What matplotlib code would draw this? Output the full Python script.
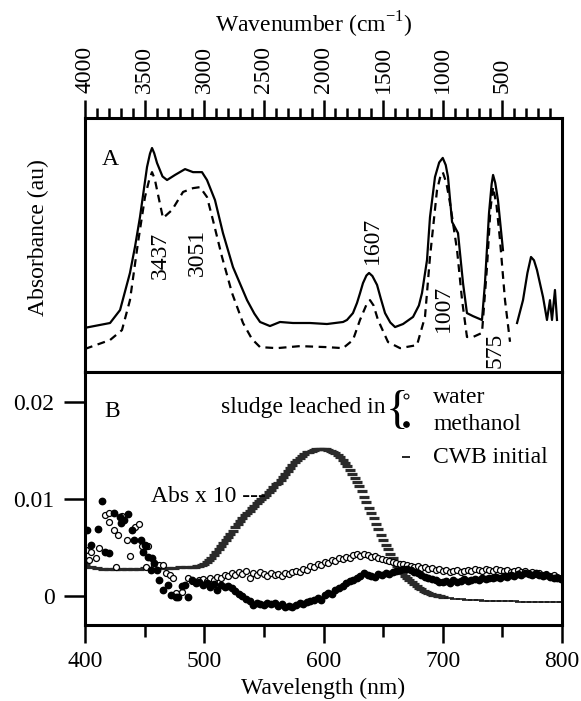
import numpy as np
import matplotlib.pyplot as plt

plt.rcParams['font.family'] = ['Liberation Serif', 'DejaVu Serif']
plt.rcParams['mathtext.fontset'] = 'custom'
plt.rcParams['mathtext.rm'] = 'Liberation Serif'

# ---- panel A: IR spectra (wavenumber, arbitrary absorbance) ----
ir_wn_solid = [4000, 3790, 3706, 3623, 3580, 3539, 3480, 3455, 3438, 3420, 3396, 3350, 3312,
               3245, 3161, 3094, 3019, 2977, 2910, 2843, 2759, 2641, 2580, 2532, 2449, 2365,
               2256, 2113, 1971, 1836, 1803, 1753, 1719, 1694, 1669, 1640, 1618, 1590, 1551,
               1520, 1484, 1440, 1400, 1333, 1249, 1200, 1174, 1132, 1107, 1065, 1030, 1000,
               975, 956, 922, 872, 830, 797, 746, 671, 646, 612, 590, 578, 560, 537, 495]
ir_abs_solid = [0.174, 0.193, 0.244, 0.390, 0.495, 0.610, 0.807, 0.860, 0.882, 0.862, 0.823,
                0.770, 0.756, 0.776, 0.799, 0.787, 0.787, 0.756, 0.677, 0.547, 0.413, 0.283,
                0.230, 0.197, 0.181, 0.197, 0.193, 0.193, 0.189, 0.197, 0.205, 0.232, 0.272,
                0.310, 0.350, 0.380, 0.390, 0.378, 0.343, 0.290, 0.232, 0.195, 0.177, 0.189,
                0.217, 0.262, 0.311, 0.441, 0.610, 0.768, 0.825, 0.843, 0.815, 0.768, 0.591,
                0.547, 0.350, 0.232, 0.220, 0.205, 0.350, 0.626, 0.740, 0.776, 0.745, 0.677,
                0.480]
ir_wn_far = [377, 327, 290, 260, 235, 210, 159, 126, 101, 84, 59, 42]
ir_abs_far = [0.193, 0.283, 0.390, 0.453, 0.440, 0.402, 0.295, 0.205, 0.283, 0.205, 0.323,
              0.205]

ir_wn_dash = [4000, 3790, 3690, 3623, 3556, 3497, 3460, 3438, 3415, 3396, 3346, 3270, 3178,
              3094, 3036, 2977, 2927, 2851, 2767, 2675, 2600, 2532, 2390, 2197, 1971, 1836,
              1753, 1694, 1640, 1610, 1580, 1543, 1459, 1358, 1216, 1149, 1107, 1048, 1020,
              1000, 970, 939, 880, 838, 797, 746, 671, 629, 600, 578, 550, 520, 478, 436]
ir_abs_dash = [0.091, 0.126, 0.165, 0.283, 0.508, 0.689, 0.760, 0.787, 0.760, 0.717, 0.606,
               0.638, 0.709, 0.724, 0.728, 0.689, 0.598, 0.453, 0.311, 0.193, 0.130, 0.098,
               0.094, 0.102, 0.098, 0.094, 0.126, 0.205, 0.265, 0.283, 0.262, 0.205, 0.118,
               0.094, 0.106, 0.217, 0.453, 0.717, 0.770, 0.787, 0.745, 0.665, 0.480, 0.283,
               0.138, 0.138, 0.154, 0.413, 0.640, 0.728, 0.660, 0.520, 0.283, 0.119]

peak_labels = ['3437', '3051', '1607', '1007', '575']
peak_x = [3371, 3061, 1593, 998, 562]
peak_y = [0.461, 0.469, 0.52, 0.252, 0.087]

# ---- panel B: UV-vis ----
cwb_nm = [400, 405, 410, 415, 420, 425, 430, 435, 440, 445, 450, 455, 460, 465, 470, 475,
          480, 485,
          490, 492, 494, 496, 498, 500, 502, 504, 506, 508,
          510, 512, 514, 516, 518, 520, 522, 524, 526, 528,
          530, 532, 534, 536, 538, 540, 542, 544, 546, 548,
          550, 552, 554, 556, 558, 560, 562, 564, 566, 568,
          570, 572, 574, 576, 578, 580, 582, 584, 586, 588,
          590, 592, 594, 596, 598, 600, 602, 604, 606, 608,
          610, 612, 614, 616, 618, 620, 622, 624, 626, 628,
          630, 632, 634, 636, 638, 640, 642, 644, 646, 648,
          650, 652, 654, 656, 658, 660, 662, 664, 666, 668,
          670, 672, 674, 676, 678, 680, 682, 684, 686, 688,
          690, 692, 694, 696, 698, 700,
          705, 710, 715, 720, 725, 730, 735, 740, 745, 750, 755, 760, 765, 770, 775, 780,
          785, 790, 795, 800]
cwb_abs = [0.0033, 0.0030, 0.0029, 0.0028, 0.0028, 0.0028, 0.0028, 0.0028, 0.0028, 0.0028,
           0.0029, 0.0029, 0.0029, 0.0029, 0.0029, 0.0029, 0.0030, 0.0030,
           0.0030, 0.0030, 0.0031, 0.0031, 0.0032, 0.0033, 0.0035, 0.0037, 0.0039, 0.0042,
           0.0045, 0.0048, 0.0051, 0.0055, 0.0058, 0.0061, 0.0064, 0.0067, 0.0071, 0.0074,
           0.0077, 0.0080, 0.0083, 0.0086, 0.0088, 0.0091, 0.0093, 0.0096, 0.0098, 0.0100,
           0.0102, 0.0104, 0.0107, 0.0109, 0.0112, 0.0115, 0.0117, 0.0120, 0.0123, 0.0126,
           0.0129, 0.0132, 0.0135, 0.0138, 0.0140, 0.0142, 0.0144, 0.0146, 0.0148, 0.0149,
           0.0150, 0.0151, 0.0152, 0.0152, 0.0152, 0.0152, 0.0152, 0.0151, 0.0150, 0.0149,
           0.0147, 0.0145, 0.0143, 0.0140, 0.0137, 0.0134, 0.0130, 0.0126, 0.0122, 0.0118,
           0.0113, 0.0108, 0.0102, 0.0097, 0.0091, 0.0086, 0.0080, 0.0074, 0.0069, 0.0063,
           0.0058, 0.0053, 0.0048, 0.0043, 0.0039, 0.0035, 0.0031, 0.0027, 0.0024, 0.0021,
           0.0019, 0.0016, 0.0014, 0.0012, 0.0010, 0.0008, 0.0007, 0.0005, 0.0004, 0.0003,
           0.0002, 0.0001, 0.0001, 0.0000, 0.0000, -0.0001,
           -0.0002, -0.0003, -0.0003, -0.0004, -0.0004, -0.0004, -0.0005, -0.0005, -0.0005,
           -0.0005, -0.0005, -0.0005, -0.0006, -0.0006, -0.0006, -0.0006, -0.0006, -0.0006,
           -0.0006, -0.0006]

# scattered readings below 490 nm
water_nm_lo = [401, 403, 405, 409, 412, 417, 420, 420.5, 424, 426, 428, 431, 435, 438, 442,
               445, 448, 451, 453, 458, 462, 465, 468, 471, 474, 476, 481, 486]
water_abs_lo = [0.0047, 0.0037, 0.0045, 0.0039, 0.0049, 0.0083, 0.0086, 0.0076, 0.0068,
                0.0030, 0.0063, 0.0082, 0.0058, 0.0041, 0.0071, 0.0074, 0.0051, 0.0030,
                0.0051, 0.0032, 0.0032, 0.0032, 0.0024, 0.0022, 0.0019, 0.0003, 0.0004,
                0.0018]
meth_nm_lo = [402, 405, 411, 414, 417, 420, 424, 429, 430, 433, 436, 439, 441, 447, 449, 450,
              451, 453, 456, 458, 455, 460, 462, 465, 470, 472, 476, 478, 481, 484, 486]
meth_abs_lo = [0.0068, 0.0053, 0.0069, 0.0098, 0.0045, 0.0044, 0.0086, 0.0081, 0.0075,
               0.0078, 0.0085, 0.0068, 0.0058, 0.0058, 0.0045, 0.0053, 0.0051, 0.0040,
               0.0039, 0.0034, 0.0027, 0.0027, 0.0016, 0.0006, 0.0011, 0.0001, -0.0001,
               -0.0001, 0.0010, 0.0011, -0.0001]

# regular 3 nm readings from 490 nm on
dense_nm = np.arange(490, 800, 3)
water_abs = [0.0015, 0.0014, 0.0016, 0.0017, 0.0015, 0.0019, 0.0016, 0.0020, 0.0019, 0.0022,
             0.0021, 0.0024, 0.0022, 0.0025, 0.0023, 0.0026, 0.0019, 0.0024, 0.0022, 0.0025,
             0.0023, 0.0021, 0.0024, 0.0022, 0.0023, 0.0021, 0.0024, 0.0023, 0.0025, 0.0026,
             0.0025, 0.0028, 0.0027, 0.0031, 0.0030, 0.0033, 0.0032, 0.0035, 0.0034, 0.0037,
             0.0036, 0.0039, 0.0038, 0.0040, 0.0039, 0.0042, 0.0043, 0.0041, 0.0043, 0.0042,
             0.0040, 0.0041, 0.0039, 0.0038, 0.0037, 0.0036, 0.0035, 0.0034, 0.0033, 0.0033,
             0.0032, 0.0031, 0.0030, 0.0031, 0.0029, 0.0030, 0.0028, 0.0029, 0.0027, 0.0028,
             0.0026, 0.0027, 0.0025, 0.0026, 0.0027, 0.0025, 0.0026, 0.0027, 0.0026, 0.0028,
             0.0027, 0.0026, 0.0028, 0.0027, 0.0026, 0.0028, 0.0027, 0.0026, 0.0027, 0.0025,
             0.0026, 0.0027, 0.0025, 0.0026, 0.0024, 0.0025, 0.0023, 0.0024, 0.0022, 0.0023,
             0.0021, 0.0022, 0.0020, 0.0019]
meth_abs = [0.0016, 0.0013, 0.0014, 0.0011, 0.0013, 0.0009, 0.0012, 0.0006, 0.0011, 0.0009,
            0.0010, 0.0008, 0.0005, 0.0002, 0.0000, -0.0003, -0.0005, -0.0009, -0.0007, -0.0008,
            -0.0009, -0.0007, -0.0008, -0.0007, -0.0010, -0.0008, -0.0011, -0.0010, -0.0011, -0.0009,
            -0.0007, -0.0008, -0.0006, -0.0005, -0.0004, -0.0002, -0.0004, 0.0001, 0.0003, 0.0002,
            0.0006, 0.0008, 0.0010, 0.0013, 0.0015, 0.0016, 0.0019, 0.0021, 0.0024, 0.0022,
            0.0021, 0.0020, 0.0023, 0.0022, 0.0024, 0.0023, 0.0025, 0.0026, 0.0027, 0.0028,
            0.0028, 0.0027, 0.0025, 0.0024, 0.0022, 0.0020, 0.0019, 0.0017, 0.0016, 0.0014,
            0.0014, 0.0015, 0.0013, 0.0016, 0.0014, 0.0015, 0.0017, 0.0015, 0.0016, 0.0017,
            0.0016, 0.0018, 0.0017, 0.0019, 0.0018, 0.0020, 0.0019, 0.0021, 0.0020, 0.0022,
            0.0021, 0.0023, 0.0022, 0.0024, 0.0023, 0.0022, 0.0024, 0.0022, 0.0021, 0.0022,
            0.0020, 0.0019, 0.0018, 0.0017]

FS = 17
SPINE = 2.2

fig = plt.figure(figsize=(5.81, 7.01), dpi=100)

# ---------- panel A ----------
axA = fig.add_axes([0.1463, 0.4693, 0.821, 0.3623])
axA.plot(ir_wn_solid, ir_abs_solid, 'k-', lw=1.6)
axA.plot(ir_wn_far, ir_abs_far, 'k-', lw=1.6)
axA.plot(ir_wn_dash, ir_abs_dash, 'k--', lw=1.6, dashes=(3.5, 2.5))
axA.set_xlim(4000, 0)
axA.set_ylim(0, 1)
axA.xaxis.tick_top()
axA.set_xticks([4000, 3500, 3000, 2500, 2000, 1500, 1000, 500])
axA.set_xticks(np.arange(100, 4000, 100), minor=True)
axA.tick_params(axis='x', which='major', direction='out', length=13, width=1.8,
                labelsize=FS, labelrotation=90, pad=5)
axA.tick_params(axis='x', which='minor', direction='out', length=7, width=1.8)
axA.set_yticks([])
for s in axA.spines.values():
    s.set_linewidth(SPINE)

for lab, x, y in zip(peak_labels, peak_x, peak_y):
    axA.text(x, y, lab, rotation=90, ha='center', va='center', fontsize=FS)
axA.text(0.052, 0.835, 'A', transform=axA.transAxes, ha='center', va='center', fontsize=FS)

# ---------- panel B ----------
axB = fig.add_axes([0.1463, 0.1084, 0.821, 0.3609])
cwb_nm_a = np.array(cwb_nm)
cwb_abs_a = np.array(cwb_abs)
body = cwb_nm_a <= 700
axB.plot(cwb_nm_a[body], cwb_abs_a[body], ls='none', marker='_', ms=7.5, mew=2.3,
         color='#2a2a2a')
axB.plot(cwb_nm_a[~body], cwb_abs_a[~body], ls='none', marker='_', ms=7.5, mew=1.2,
         color='#1a1a1a')
axB.plot(water_nm_lo, water_abs_lo, ls='none', marker='o', ms=4.3, mew=0.9,
         mfc='white', mec='black')
axB.plot(dense_nm, water_abs, ls='none', marker='o', ms=4.3, mew=0.9,
         mfc='white', mec='black')
axB.plot(meth_nm_lo, meth_abs_lo, ls='none', marker='o', ms=4.6, color='black')
axB.plot(dense_nm, meth_abs, ls='none', marker='o', ms=4.6, color='black')
axB.set_xlim(400, 800)
axB.set_ylim(-0.0030, 0.0231)
axB.set_xticks([400, 500, 600, 700, 800])
axB.set_xticks([450, 550, 650, 750], minor=True)
axB.set_yticks([0, 0.01, 0.02])
axB.set_yticklabels(['0', '0.01', '0.02'])
axB.tick_params(axis='x', which='major', direction='out', length=13, width=1.8,
                labelsize=FS, pad=6)
axB.tick_params(axis='x', which='minor', direction='out', length=8.5, width=1.8)
axB.tick_params(axis='y', which='major', direction='out', length=15, width=1.8,
                labelsize=FS, pad=7)
for s in axB.spines.values():
    s.set_linewidth(SPINE)

axB.text(0.057, 0.842, 'B', transform=axB.transAxes, ha='center', va='center', fontsize=FS)
axB.text(0.630, 0.858, 'sludge leached in', transform=axB.transAxes,
         ha='right', va='center', fontsize=FS)
axB.text(0.655, 0.843, '{', transform=axB.transAxes, ha='center', va='center', fontsize=34)
axB.plot([0.674], [0.905], transform=axB.transAxes, marker='o', ms=3.5, mew=0.8,
         mfc='white', mec='black', clip_on=False)
axB.plot([0.674], [0.795], transform=axB.transAxes, marker='o', ms=3.8, color='black',
         clip_on=False)
axB.plot([0.674], [0.664], transform=axB.transAxes, marker='_', ms=6, mew=1.2,
         color='black', clip_on=False)
axB.text(0.730, 0.901, 'water', transform=axB.transAxes, ha='left', va='center', fontsize=FS)
axB.text(0.730, 0.791, 'methanol', transform=axB.transAxes, ha='left', va='center',
         fontsize=FS)
axB.text(0.730, 0.664, 'CWB initial', transform=axB.transAxes, ha='left', va='center',
         fontsize=FS)
axB.text(0.139, 0.506, 'Abs x 10 ---', transform=axB.transAxes, ha='left', va='center',
         fontsize=FS)

# axis titles
fig.text(0.0654, 0.6605, 'Absorbance (au)', rotation=90, ha='center', va='center',
         fontsize=FS)
fig.text(0.54, 0.964, r'Wavenumber (cm$^{\mathregular{-1}}$)', ha='center', va='center',
         fontsize=FS)
fig.text(0.556, 0.0185, 'Wavelength (nm)', ha='center', va='center', fontsize=FS)

fig.savefig('out.png', dpi=100)
